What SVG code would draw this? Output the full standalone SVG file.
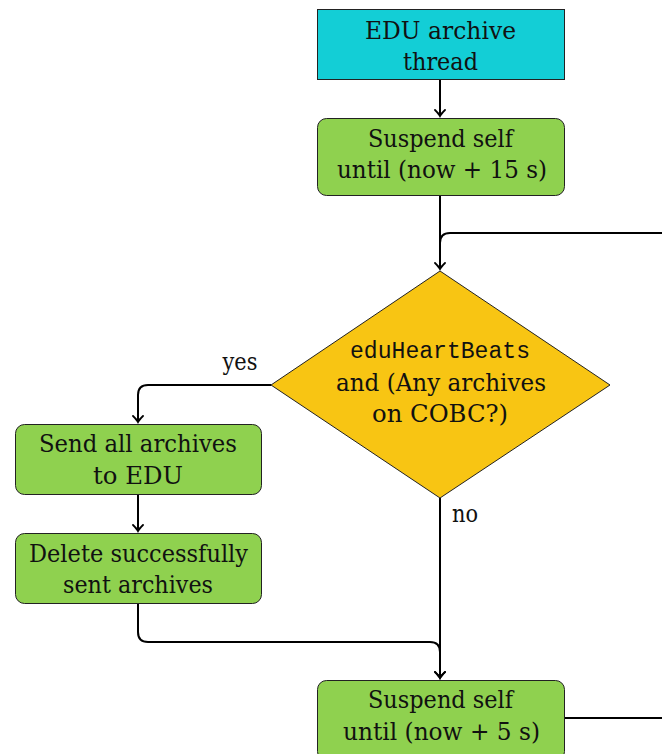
<svg xmlns="http://www.w3.org/2000/svg" width="662" height="754" viewBox="0 0 662 754">
<style>
.t{font-family:"DejaVu Serif","Liberation Serif","Times New Roman",serif;font-size:25px;fill:#111;text-anchor:middle}
.m{font-family:"Liberation Mono","DejaVu Sans Mono","Courier New",monospace;font-size:23px;fill:#111;text-anchor:middle}
.box{stroke:#222;stroke-width:1}
.c{fill:none;stroke:#000;stroke-width:2}
</style>
<defs>
<marker id="ar" viewBox="-8 -6 10 12" markerWidth="10" markerHeight="12" refX="0" refY="0" orient="auto" markerUnits="userSpaceOnUse">
<path d="M-6,-5 Q-2,-1 0,0 Q-2,1 -6,5" fill="none" stroke="#000" stroke-width="1.8" stroke-linecap="round"/>
</marker>
</defs>
<rect x="0" y="0" width="662" height="754" fill="#fff"/>
<g id="connectors">
<path class="c" d="M440,80 V116" marker-end="url(#ar)"/>
<path class="c" d="M440,195 V269" marker-end="url(#ar)"/>
<path class="c" d="M662,233 H450 Q440,233 440,243 V269"/>
<path class="c" d="M271,385 H148 Q138,385 138,395 V422" marker-end="url(#ar)"/>
<path class="c" d="M138,495 V531" marker-end="url(#ar)"/>
<path class="c" d="M138,604 V632 Q138,642 148,642 H430 Q440,642 440,652 V678" marker-end="url(#ar)"/>
<path class="c" d="M440,498 V678" marker-end="url(#ar)"/>
<path class="c" d="M564,718 H662"/>
<text class="t" x="240" y="370" textLength="35" lengthAdjust="spacingAndGlyphs">yes</text>
<text class="t" x="465" y="522" textLength="26" lengthAdjust="spacingAndGlyphs">no</text>
</g>
<g id="start">
<rect class="box" x="317.5" y="9.5" width="247" height="70" fill="#13CED6"/>
<text class="t" x="440.5" y="39" textLength="151" lengthAdjust="spacingAndGlyphs">EDU archive</text>
<text class="t" x="440.5" y="70" textLength="75" lengthAdjust="spacingAndGlyphs">thread</text>
</g>
<g id="suspend15">
<rect class="box" x="317.5" y="118.5" width="247" height="77" rx="9" fill="#8FD14F"/>
<text class="t" x="440.5" y="147" textLength="145" lengthAdjust="spacingAndGlyphs">Suspend self</text>
<text class="t" x="442" y="178" textLength="210" lengthAdjust="spacingAndGlyphs">until (now + 15 s)</text>
</g>
<g id="decision">
<polygon class="box" points="440,271 610,385 440,498 271,385" fill="#F8C513"/>
<text class="m" x="440" y="358" textLength="180" lengthAdjust="spacingAndGlyphs">eduHeartBeats</text>
<text class="t" x="441" y="391" textLength="210" lengthAdjust="spacingAndGlyphs">and (Any archives</text>
<text class="t" x="440" y="422" textLength="136" lengthAdjust="spacingAndGlyphs">on COBC?)</text>
</g>
<g id="send">
<rect class="box" x="15.5" y="424.5" width="246" height="70" rx="9" fill="#8FD14F"/>
<text class="t" x="138" y="452" textLength="198" lengthAdjust="spacingAndGlyphs">Send all archives</text>
<text class="t" x="138" y="484" textLength="90" lengthAdjust="spacingAndGlyphs">to EDU</text>
</g>
<g id="delete">
<rect class="box" x="15.5" y="533.5" width="246" height="70" rx="9" fill="#8FD14F"/>
<text class="t" x="138.5" y="562" textLength="219" lengthAdjust="spacingAndGlyphs">Delete successfully</text>
<text class="t" x="138" y="593" textLength="150" lengthAdjust="spacingAndGlyphs">sent archives</text>
</g>
<g id="suspend5">
<rect class="box" x="317.5" y="680.5" width="247" height="80" rx="9" fill="#8FD14F"/>
<text class="t" x="440.5" y="708" textLength="145" lengthAdjust="spacingAndGlyphs">Suspend self</text>
<text class="t" x="441.5" y="740" textLength="197" lengthAdjust="spacingAndGlyphs">until (now + 5 s)</text>
</g>
</svg>
